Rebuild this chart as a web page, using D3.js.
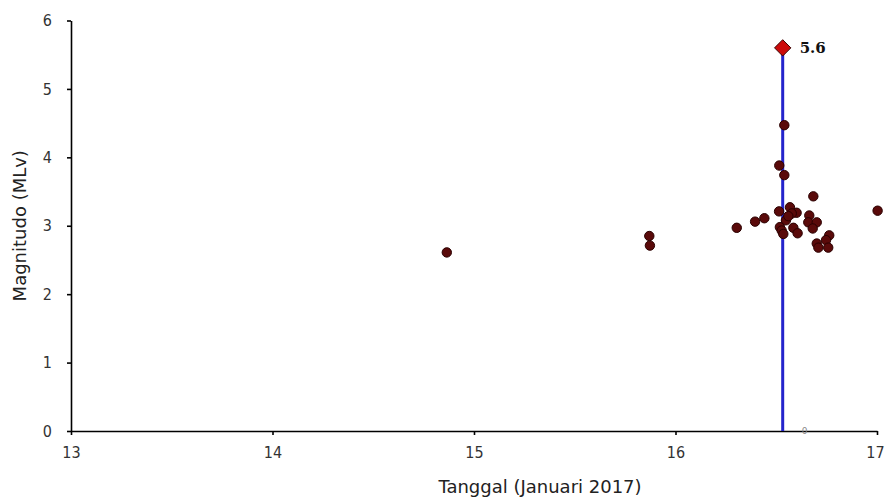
<!DOCTYPE html>
<html>
<head>
<meta charset="utf-8">
<script src="https://cdn.jsdelivr.net/npm/d3@7"></script>
<style>
  body { margin: 0; background: #fff; }
  .axis path, .axis line { stroke: #000; stroke-width: 1.6px; }
  .axis text { font-family: 'DejaVu Sans Condensed', 'DejaVu Sans', sans-serif; font-size: 16px; fill: #333; }
  .title { font-family: 'DejaVu Sans', sans-serif; font-size: 18px; fill: #222; }
</style>
</head>
<body>
<div id="graph"></div>
<script>
// aftershocks: day of January 2017 (fractional) and magnitude
var quakeDay = [14.865, 15.870, 15.873, 16.304, 16.395, 16.441, 16.514, 16.515, 16.540, 16.540,
  16.568, 16.601, 16.577, 16.548, 16.518, 16.527, 16.535, 16.585, 16.606, 16.664,
  16.659, 16.701, 16.681, 16.684, 16.763, 16.747, 16.701, 16.709, 16.758, 17.003, 16.560];
var quakeMag = [2.61, 2.85, 2.71, 2.97, 3.06, 3.11, 3.21, 3.88, 4.47, 3.74,
  3.27, 3.19, 3.18, 3.08, 2.98, 2.93, 2.88, 2.97, 2.89, 3.15,
  3.05, 3.05, 2.96, 3.43, 2.86, 2.79, 2.74, 2.68, 2.68, 3.22, 3.14];

// main shock
var mainDay = [16.532];
var mainMag = [5.6];
var mainLabel = ['5.6'];

var xTicks = [13, 14, 15, 16, 17];
var yTicks = [0, 1, 2, 3, 4, 5, 6];

var width = 885, height = 501;
var margin = { top: 20.5, right: 8, bottom: 70, left: 71 };

var svg = d3.select('#graph').append('svg')
  .attr('width', width)
  .attr('height', height);

var x = d3.scaleLinear().domain([13, 17]).range([margin.left, width - margin.right]);
var y = d3.scaleLinear().domain([0, 6]).range([height - margin.bottom, margin.top]);

// y axis
svg.append('g')
  .attr('class', 'axis')
  .attr('transform', 'translate(' + margin.left + ',0)')
  .call(d3.axisLeft(y).tickValues(yTicks).tickFormat(d3.format('d'))
    .tickSize(4).tickSizeOuter(0).tickPadding(15));

// x axis
var xAxis = svg.append('g')
  .attr('class', 'axis')
  .attr('transform', 'translate(0,' + y(0) + ')')
  .call(d3.axisBottom(x).tickValues(xTicks).tickFormat(d3.format('d'))
    .tickSize(4).tickSizeOuter(0).tickPadding(12));

// keep the last label inside the page edge
xAxis.selectAll('.tick text')
  .filter(function(d) { return d === xTicks[xTicks.length - 1]; })
  .attr('dx', -2);

// vertical line under the main shock
svg.append('line')
  .attr('x1', x(mainDay[0]))
  .attr('x2', x(mainDay[0]))
  .attr('y1', y(0))
  .attr('y2', y(mainMag[0]))
  .attr('stroke', '#2424cc')
  .attr('stroke-width', 3);

// small zero label next to the line foot
svg.append('text')
  .attr('x', x(mainDay[0]) + 22)
  .attr('y', y(0) + 3)
  .attr('text-anchor', 'middle')
  .style('font-family', 'DejaVu Sans, sans-serif')
  .style('font-size', '9px')
  .style('fill', '#888')
  .text('0');

// aftershock dots
svg.selectAll('circle.quake')
  .data(quakeDay)
  .enter().append('circle')
  .attr('class', 'quake')
  .attr('cx', function(d) { return x(d); })
  .attr('cy', function(d, i) { return y(quakeMag[i]); })
  .attr('r', 4.7)
  .attr('fill', '#5a0a0a')
  .attr('stroke', '#2a0000')
  .attr('stroke-width', 1);

// main shock diamond
svg.selectAll('path.main')
  .data(mainDay)
  .enter().append('path')
  .attr('class', 'main')
  .attr('d', d3.symbol().type(d3.symbolDiamond2).size(170))
  .attr('transform', function(d, i) {
    return 'translate(' + x(d) + ',' + y(mainMag[i]) + ')';
  })
  .attr('fill', '#cc0a0a')
  .attr('stroke', '#3a0000')
  .attr('stroke-width', 1);

svg.selectAll('text.main')
  .data(mainDay)
  .enter().append('text')
  .attr('class', 'main')
  .attr('x', function(d) { return x(d) + 17; })
  .attr('y', function(d, i) { return y(mainMag[i]) + 5; })
  .style('font-family', 'DejaVu Serif, serif')
  .style('font-weight', 'bold')
  .style('font-size', '15px')
  .style('fill', '#111')
  .text(function(d, i) { return mainLabel[i]; });

// axis titles
svg.append('text')
  .attr('class', 'title')
  .attr('x', 540)
  .attr('y', 493)
  .attr('text-anchor', 'middle')
  .text('Tanggal (Januari 2017)');

svg.append('text')
  .attr('class', 'title')
  .attr('transform', 'translate(26,' + ((y(0) + y(6)) / 2) + ') rotate(-90)')
  .attr('text-anchor', 'middle')
  .text('Magnitudo (MLv)');
</script>
</body>
</html>
